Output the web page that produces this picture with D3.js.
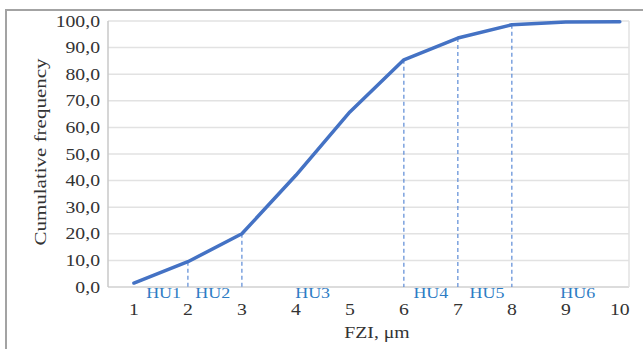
<!DOCTYPE html>
<html>
<head>
<meta charset="utf-8">
<script src="https://cdn.jsdelivr.net/npm/d3@7"></script>
<style>
  html, body { margin: 0; padding: 0; background: #fff; }
  text { font-family: "Liberation Serif", "Times New Roman", serif; }
</style>
</head>
<body>
<div class="chart"></div>
<script>
'use strict';
(function() {
  // Data
  var fzi = [1, 2, 3, 4, 5, 6, 7, 8, 9, 10];
  var cumFreq = [1.5, 9.5, 20.0, 42.0, 65.8, 85.4, 93.6, 98.6, 99.6, 99.7];
  var yTicks = [0, 10, 20, 30, 40, 50, 60, 70, 80, 90, 100];
  var xTicks = [1, 2, 3, 4, 5, 6, 7, 8, 9, 10];
  var boundaries = [2, 3, 6, 7, 8];
  var huNames = ['HU1', 'HU2', 'HU3', 'HU4', 'HU5', 'HU6'];
  var huPos = [1.55, 2.46, 4.31, 6.5, 7.54, 9.22];

  var w = 643;
  var h = 349;
  var left = 108, right = 629, top = 21, bottom = 287;
  var stretch = 1.16;

  var svg = d3.select('.chart')
    .append('svg')
    .attr('width', w)
    .attr('height', h);

  // Outer frame
  svg.append('rect')
    .attr('x', 6).attr('y', 10)
    .attr('width', 700).attr('height', 400)
    .attr('fill', 'none')
    .attr('stroke', '#a3a3a3')
    .attr('stroke-width', 2);

  var xScale = d3.scaleLinear().domain([0.52, 10.17]).range([left, right]);
  var yScale = d3.scaleLinear().domain([0, 100]).range([bottom, top]);

  // Grid
  svg.append('g')
    .selectAll('line')
    .data(yTicks)
    .enter()
    .append('line')
    .attr('x1', left).attr('x2', right)
    .attr('y1', function(d) { return yScale(d); })
    .attr('y2', function(d) { return yScale(d); })
    .attr('stroke', function(d) { return d === 0 ? '#d0d0d0' : '#e2e2e2'; })
    .attr('stroke-width', 1.5);

  // Left axis line and right border
  svg.append('line')
    .attr('x1', left).attr('x2', left)
    .attr('y1', top).attr('y2', bottom)
    .attr('stroke', '#c8c8c8').attr('stroke-width', 1.5);
  svg.append('line')
    .attr('x1', right).attr('x2', right)
    .attr('y1', top).attr('y2', bottom)
    .attr('stroke', '#e2e2e2').attr('stroke-width', 1.5);

  // Y tick labels
  svg.append('g')
    .selectAll('text')
    .data(yTicks)
    .enter()
    .append('text')
    .attr('transform', function(d) {
      return 'translate(100,' + (yScale(d) + 5.5) + ') scale(' + stretch + ',1)';
    })
    .attr('text-anchor', 'end')
    .attr('font-size', '17px')
    .attr('fill', '#333')
    .text(function(d) { return d3.format('.1f')(d).replace('.', ','); });

  // X tick labels
  svg.append('g')
    .selectAll('text')
    .data(xTicks)
    .enter()
    .append('text')
    .attr('transform', function(d) {
      return 'translate(' + xScale(d) + ',315) scale(' + stretch + ',1)';
    })
    .attr('text-anchor', 'middle')
    .attr('font-size', '17px')
    .attr('fill', '#333')
    .text(function(d) { return d; });

  // Boundary dashed lines
  svg.append('g')
    .selectAll('line')
    .data(boundaries)
    .enter()
    .append('line')
    .attr('x1', function(d) { return xScale(d); })
    .attr('x2', function(d) { return xScale(d); })
    .attr('y1', function(d) { return yScale(cumFreq[fzi.indexOf(d)]); })
    .attr('y2', bottom)
    .attr('stroke', '#5b8ad6')
    .attr('stroke-width', 1.2)
    .attr('stroke-dasharray', '4,3');

  // Curve
  var line = d3.line()
    .x(function(d, i) { return xScale(fzi[i]); })
    .y(function(d) { return yScale(d); });
  svg.append('path')
    .datum(cumFreq)
    .attr('d', line)
    .attr('fill', 'none')
    .attr('stroke', '#4472c4')
    .attr('stroke-width', 3.5)
    .attr('stroke-linejoin', 'round')
    .attr('stroke-linecap', 'round');

  // HU labels
  svg.append('g')
    .selectAll('text')
    .data(huNames)
    .enter()
    .append('text')
    .attr('transform', function(d, i) {
      return 'translate(' + xScale(huPos[i]) + ',298) scale(' + stretch + ',1)';
    })
    .attr('text-anchor', 'middle')
    .attr('font-size', '15.5px')
    .attr('fill', '#2e7cc4')
    .text(function(d) { return d; });

  // Axis titles
  svg.append('text')
    .attr('transform', 'translate(377,338) scale(' + stretch + ',1)')
    .attr('text-anchor', 'middle')
    .attr('font-size', '17px')
    .attr('fill', '#333')
    .text('FZI, μm');

  svg.append('text')
    .attr('transform', 'translate(46,152) rotate(-90) scale(1.2,1)')
    .attr('text-anchor', 'middle')
    .attr('font-size', '17.5px')
    .attr('fill', '#333')
    .text('Cumulative frequency');
})();
</script>
</body>
</html>
